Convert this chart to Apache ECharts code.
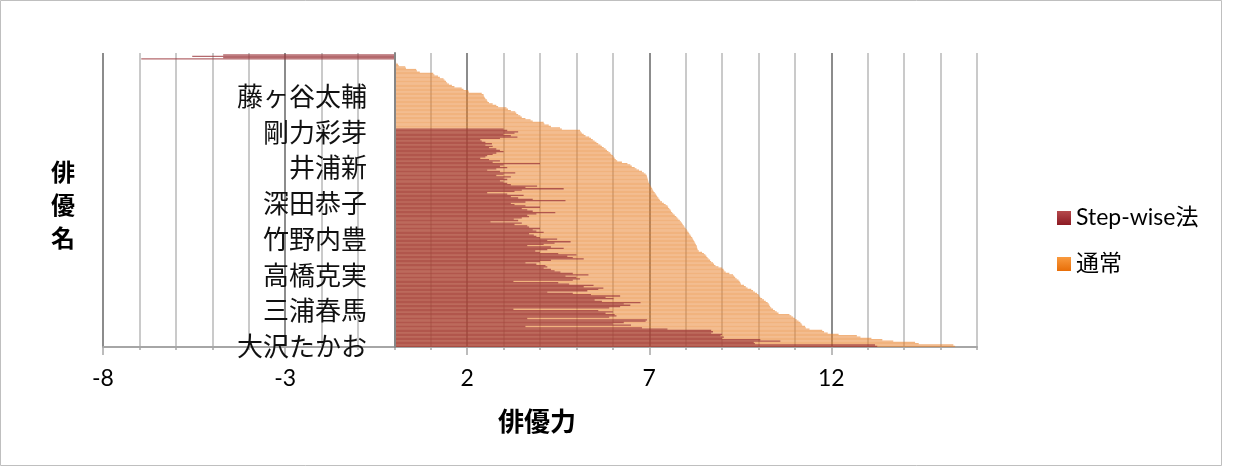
<!DOCTYPE html>
<html>
<head>
<meta charset="utf-8">
<script src="https://cdn.jsdelivr.net/npm/echarts@6/dist/echarts.min.js"></script>
<style>
  html, body { margin: 0; padding: 0; background: #fff; }
  #main { width: 1234px; height: 474px; }
</style>
</head>
<body>
<div id="main"></div>
<script>
// Actor names shown on the category axis (one every labelStep rows, from the bottom)
const labeledActors = ['大沢たかお', '三浦春馬', '高橋克実', '竹野内豊', '深田恭子', '井浦新', '剛力彩芽', '藤ヶ谷太輔'];
const labelStep = 27;

// 通常 scores, bottom row first
const normalScores = [
  15.4, 15.35, 14.4, 14.3, 13.7, 13.4, 13.1, 12.8, 12.7, 12.2,
  11.9, 11.8, 11.75, 11.4, 11.3, 11.28, 11.2, 11.18, 11.15, 11.1,
  11.05, 11.0, 10.95, 10.9, 10.85, 10.55, 10.5, 10.45, 10.4, 10.35,
  10.32, 10.3, 10.28, 10.25, 10.2, 10.15, 10.1, 10.05, 10.02, 10.0,
  9.96, 9.9, 9.85, 9.8, 9.7, 9.65, 9.6, 9.52, 9.5, 9.48,
  9.45, 9.4, 9.36, 9.33, 9.3, 9.2, 9.1, 9.06, 9.04, 9.0,
  8.9, 8.82, 8.78, 8.75, 8.7, 8.67, 8.63, 8.6, 8.57, 8.54,
  8.5, 8.45, 8.36, 8.33, 8.32, 8.31, 8.3, 8.28, 8.26, 8.24,
  8.22, 8.2, 8.18, 8.15, 8.13, 8.1, 8.08, 8.05, 8.03, 8.0,
  7.97, 7.95, 7.92, 7.9, 7.87, 7.84, 7.8, 7.77, 7.74, 7.7,
  7.66, 7.63, 7.6, 7.58, 7.55, 7.52, 7.5, 7.45, 7.4, 7.35,
  7.3, 7.28, 7.25, 7.22, 7.2, 7.18, 7.15, 7.12, 7.1, 7.08,
  7.06, 7.04, 7.02, 7.0, 6.98, 6.97, 6.96, 6.95, 6.94, 6.93,
  6.9, 6.85, 6.8, 6.72, 6.65, 6.6, 6.52, 6.48, 6.4, 6.25,
  6.12, 6.08, 6.05, 6.02, 6.0, 5.96, 5.93, 5.88, 5.84, 5.8,
  5.75, 5.7, 5.66, 5.6, 5.55, 5.5, 5.45, 5.4, 5.35, 5.25,
  5.2, 5.15, 5.12, 5.1, 4.6, 4.55, 4.3, 4.24, 4.12, 4.1,
  3.8, 3.74, 3.6, 3.5, 3.46, 3.4, 3.35, 3.32, 3.2, 3.12,
  3.08, 2.85, 2.8, 2.7, 2.6, 2.56, 2.54, 2.5, 2.48, 2.46,
  2.45, 2.4, 2.05, 2.03, 1.9, 1.85, 1.65, 1.58, 1.5, 1.45,
  1.42, 1.38, 1.35, 1.25, 1.2, 1.1, 1.07, 0.7, 0.62, 0.6,
  0.32, 0.3, 0.12, 0.1, 0.05, 0, 0, 0, 0, 0,
  0, 0
];

// Step-wise法 scores, same row order
const stepwiseScores = [
  13.26, 13.2, 9.9, 9.87, 10.6, 10.05, 9.0, 9.05, 8.96, 9.0,
  8.7, 8.75, 8.7, 7.5, 6.8, 3.6, 6.5, 6.0, 6.3, 6.9,
  6.94, 3.65, 5.9, 6.1, 6.05, 5.8, 6.0, 5.6, 3.27, 5.9,
  6.2, 6.48, 6.3, 6.76, 5.7, 5.5, 6.02, 5.8, 6.2, 5.4,
  4.9, 4.2, 5.3, 5.6, 5.74, 5.2, 5.47, 4.8, 4.5, 3.27,
  4.9, 5.1, 5.0, 4.7, 5.33, 4.9, 4.56, 4.4, 4.3, 4.1,
  4.2, 4.15, 3.9, 3.6, 4.0, 4.3, 5.2, 4.9, 4.75, 5.0,
  4.5, 4.0, 3.87, 4.2, 4.65, 4.3, 3.65, 4.1, 4.4, 4.84,
  4.2, 4.47, 4.0, 3.9, 3.83, 3.7, 4.1, 3.9, 3.8, 4.0,
  3.7, 3.65, 3.3, 3.5, 2.64, 3.4, 3.28, 3.5, 3.7, 3.65,
  3.9, 4.42, 3.8, 3.65, 3.5, 4.0, 3.6, 3.3, 3.2, 3.6,
  4.7, 3.8, 3.4, 3.2, 3.55, 3.1, 2.55, 3.3, 3.5, 4.65,
  3.6, 3.92, 3.2, 3.1, 3.0, 2.9, 3.1, 3.0, 3.2, 2.8,
  3.0, 3.32, 2.9, 2.55, 2.8, 3.1, 2.9, 3.0, 4.0, 2.7,
  2.9, 2.6, 2.36, 2.5, 2.55, 2.7, 2.8, 3.0, 2.9, 2.8,
  2.6, 2.7, 2.5, 2.68, 2.5, 2.4, 2.36, 2.9, 3.38, 3.2,
  3.0, 3.3, 3.4, 3.1, 3.0, 0, 0, 0, 0, 0,
  0, 0, 0, 0, 0, 0, 0, 0, 0, 0,
  0, 0, 0, 0, 0, 0, 0, 0, 0, 0,
  0, 0, 0, 0, 0, 0, 0, 0, 0, 0,
  0, 0, 0, 0, 0, 0, 0, 0, 0, 0,
  0, 0, 0, 0, 0, 0, 0, -6.95, -4.7, -5.55,
  -4.7, 0
];

const xTickValues = [-8, -3, 2, 7, 12];
const seriesNames = ['Step-wise法', '通常'];

// Category list: actor name on every labelStep-th row, blank otherwise
const categories = normalScores.map((_, i) =>
  i % labelStep === 0 && labeledActors[i / labelStep] ? labeledActors[i / labelStep] : '');

const latin = 'Lato, "Noto Sans CJK JP", sans-serif';
const cjk = '"Noto Sans CJK JP", sans-serif';

// Gridline every unit; darker line on every labelled value
const gridColors = ['#8C8C8C', '#CACACA', '#CACACA', '#CACACA', '#CACACA'];

const redSwatch = { type: 'linear', x: 0, y: 0, x2: 0, y2: 1,
  colorStops: [{ offset: 0, color: '#B5494C' }, { offset: 1, color: '#8C1A23' }] };
const orangeSwatch = { type: 'linear', x: 0, y: 0, x2: 0, y2: 1,
  colorStops: [{ offset: 0, color: '#F99A3E' }, { offset: 1, color: '#E86E08' }] };

const gridLeft = 103;
const zeroLabelRight = 367; // right edge of the actor names, just left of the zero line

const chart = echarts.init(document.getElementById('main'), null, { renderer: 'canvas' });

chart.setOption({
  animation: false,
  backgroundColor: '#ffffff',
  grid: { left: gridLeft, right: 257, top: 53, bottom: 127, containLabel: false, outerBoundsMode: 'none' },
  legend: {
    orient: 'vertical',
    left: 1057,
    top: 206,
    padding: 0,
    itemWidth: 14,
    itemHeight: 14,
    itemGap: 22,
    selectedMode: false,
    textStyle: { fontFamily: latin, fontSize: 23, color: '#000', lineHeight: 24 },
    data: [
      { name: seriesNames[0], icon: 'rect', itemStyle: { color: redSwatch } },
      { name: seriesNames[1], icon: 'rect', itemStyle: { color: orangeSwatch } }
    ]
  },
  xAxis: [
    {
      // unit gridlines, short unit ticks and the value labels
      type: 'value',
      min: -8,
      max: 16,
      interval: 1,
      position: 'bottom',
      axisLine: { show: true, onZero: false, lineStyle: { color: '#A6A6A6', width: 2 } },
      axisTick: { show: true, length: 3, lineStyle: { color: '#A6A6A6', width: 1.5 } },
      axisLabel: {
        formatter: v => (xTickValues.indexOf(v) >= 0 ? String(v) : ''),
        margin: 20,
        fontFamily: latin,
        fontSize: 23,
        color: '#000'
      },
      splitLine: { show: true, lineStyle: { color: gridColors, width: 2 } }
    },
    {
      // long ticks at the labelled values
      type: 'value',
      min: -8,
      max: 16,
      interval: 1,
      position: 'bottom',
      offset: 0,
      axisLine: { show: false, onZero: false },
      axisTick: { show: true, customValues: xTickValues, length: 8, lineStyle: { color: '#A6A6A6', width: 1.5 } },
      axisLabel: { show: false },
      splitLine: { show: false }
    }
  ],
  yAxis: {
    type: 'category',
    data: categories,
    z: 10,
    axisLine: { show: true, onZero: true, onZeroAxisIndex: 0, lineStyle: { color: '#868686', width: 2 } },
    axisTick: { show: false },
    axisLabel: {
      interval: labelStep - 1,
      margin: gridLeft - zeroLabelRight,
      fontFamily: cjk,
      fontSize: 26,
      color: '#111'
    },
    splitLine: { show: false }
  },
  series: [
    {
      name: seriesNames[1],
      type: 'bar',
      data: normalScores,
      barCategoryGap: '0%',
      barGap: '-100%',
      silent: true,
      itemStyle: { color: 'rgba(232,128,40,0.6)' },
      z: 2
    },
    {
      name: seriesNames[0],
      type: 'bar',
      data: stepwiseScores,
      barCategoryGap: '0%',
      barGap: '-100%',
      silent: true,
      itemStyle: { color: 'rgba(155,55,60,0.75)' },
      z: 3
    }
  ],
  graphic: [
    {
      type: 'rect',
      silent: true,
      shape: { x: 0.5, y: 0.5, width: 1221, height: 465 },
      style: { fill: 'none', stroke: '#BFBFBF', lineWidth: 1 }
    },
    {
      type: 'text',
      silent: true,
      style: {
        text: '俳優力', x: 537, y: 421, align: 'center', verticalAlign: 'middle',
        font: 'bold 26px "Noto Sans CJK JP"', fill: '#000'
      }
    },
    {
      type: 'text',
      silent: true,
      style: {
        text: '俳\n優\n名', x: 63, y: 205, align: 'center', verticalAlign: 'middle',
        font: 'bold 24px "Noto Sans CJK JP"', lineHeight: 33, fill: '#000'
      }
    }
  ]
});
</script>
</body>
</html>
